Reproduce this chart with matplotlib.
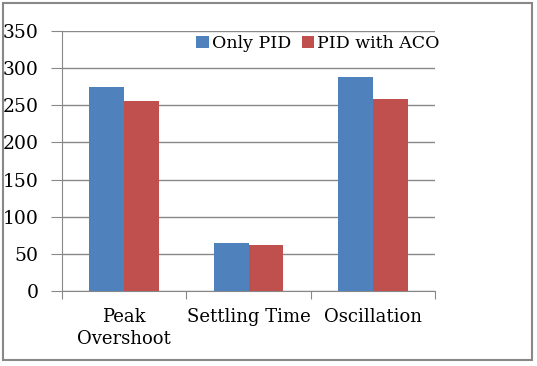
import matplotlib.pyplot as plt
import numpy as np
from matplotlib.patches import Rectangle

categories = ['Peak\nOvershoot', 'Settling Time', 'Oscillation']
only_pid = [275, 64, 288]
pid_aco = [256, 62, 259]
yticks = [0, 50, 100, 150, 200, 250, 300, 350]

plt.rcParams['font.family'] = ['DejaVu Serif']

fig = plt.figure(figsize=(5.37, 3.66), dpi=100)
ax = fig.add_axes([0.1155, 0.205, 0.695, 0.71])

x = np.arange(len(categories))
w = 0.28
ax.bar(x - w / 2, only_pid, w, color='#4f81bd', label='Only PID', zorder=3)
ax.bar(x + w / 2, pid_aco, w, color='#c0504d', label='PID with ACO', zorder=3)

ax.set_xlim(-0.5, 2.5)
ax.set_ylim(0, 350)
ax.set_yticks(yticks)
ax.tick_params(axis='y', labelsize=13.5, length=8, color='#888888', pad=9)
ax.yaxis.grid(True, color='#888888', linewidth=1, zorder=0)

ax.set_xticks([-0.5, 0.5, 1.5, 2.5])
ax.set_xticklabels([])
ax.set_xticks(x, minor=True)
ax.set_xticklabels(categories, minor=True, fontsize=13, linespacing=1.3)
ax.tick_params(axis='x', which='major', length=6, color='#888888')
ax.tick_params(axis='x', which='minor', length=0, pad=12)

for s in ['top', 'right']:
    ax.spines[s].set_visible(False)
for s in ['left', 'bottom']:
    ax.spines[s].set_color('#888888')

ax.legend(loc='upper right', bbox_to_anchor=(1.045, 1.03), ncol=2, frameon=False,
          fontsize=12.5, handlelength=0.7, handleheight=0.7, handletextpad=0.2,
          columnspacing=0.6, borderaxespad=0.3)

fig.patches.append(Rectangle((0.006, 0.016), 0.985, 0.975, transform=fig.transFigure,
                             fill=False, edgecolor='#888888', linewidth=1.5))

fig.savefig('out.png', dpi=100)
